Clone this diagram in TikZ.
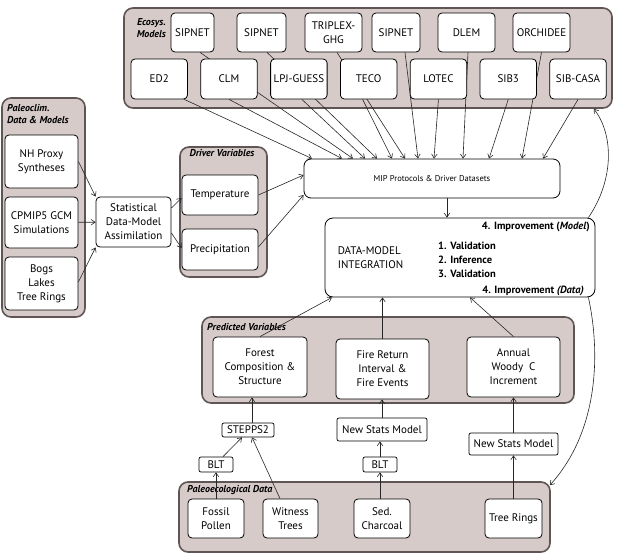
\documentclass[tikz,border=0pt]{standalone}
\usepackage{fontspec}
\setmainfont{PT Sans}
\usetikzlibrary{positioning, arrows.meta, calc}

\definecolor{grpfill}{RGB}{214,203,201}
\definecolor{grpline}{RGB}{95,85,85}

\begin{document}
\begin{tikzpicture}[
    x=1pt, y=-1pt,
    >={Straight Barb[length=4pt,width=5.5pt]},
    every node/.style={font=\fontsize{11}{14}\selectfont},
    model/.style={rectangle, draw=black, fill=white, rounded corners=4pt, align=center, inner sep=1pt, line width=0.8pt, minimum width=56.5pt, minimum height=40pt},
    tag/.style={rectangle, draw=black, fill=white, rounded corners=2pt, align=center, inner sep=1pt, line width=0.7pt},
    group/.style={rectangle, draw=grpline, fill=grpfill, rounded corners=9pt, line width=1.6pt, inner sep=0pt},
    grouplabel/.style={font=\fontsize{10}{12.5}\selectfont\bfseries\itshape, inner sep=0pt, align=left},
    bold/.style={font=\fontsize{10.5}{14}\selectfont\bfseries, inner sep=0pt, align=left},
    link/.style={->, line width=0.6pt, draw=black!85}
]
\useasboundingbox (0,0) rectangle (622,554);

% Groups
\node[group, minimum width=488pt, minimum height=100pt] (ecogrp) at (368,58) {};
\node[group, minimum width=83pt, minimum height=219pt] (climgrp) at (43.5,207.5) {};
\node[group, minimum width=87pt, minimum height=130pt] (drivgrp) at (223.5,212) {};
\node[group, minimum width=372pt, minimum height=86pt] (predgrp) at (388,360) {};
\node[group, minimum width=371pt, minimum height=70pt] (paleogrp) at (364.5,517) {};

% Group labels
\node[grouplabel, align=right, anchor=north east] (ecolbl) at (166,18) {Ecosys.\\Models};
\node[grouplabel, anchor=north west] (climlbl) at (7,104) {Paleoclim.\\Data \& Models};
\node[grouplabel, anchor=north] (drivlbl) at (222,149) {Driver Variables};
\node[grouplabel, anchor=west] (predlbl) at (207,327) {Predicted Variables};
\node[grouplabel, anchor=west] (paleolbl) at (187,490) {Paleoecological Data};

% Ecosystem models, top row
\node[model, minimum width=43pt, minimum height=39pt] (sip1) at (192.5,32.5) {SIPNET};
\node[model, minimum width=49pt, minimum height=39pt] (sip2) at (261.5,32.5) {SIPNET};
\node[model, minimum width=57pt, minimum height=39pt] (triplex) at (333.5,32.5) {TRIPLEX-\\GHG};
\node[model, minimum width=48pt, minimum height=39pt] (sip3) at (396,32.5) {SIPNET};
\node[model, minimum width=57pt, minimum height=39pt] (dlem) at (466.5,32.5) {DLEM};
\node[model, minimum width=57pt, minimum height=39pt] (orchidee) at (541.5,32.5) {ORCHIDEE};

% MIP protocols
\node[model, minimum width=256pt, minimum height=39pt, rounded corners=7pt, font=\fontsize{8.5}{10}\selectfont] (mip) at (432,178.5) {MIP Protocols \& Driver Datasets};

% Top row to MIP (run behind the bottom row)
\draw[link] ([xshift=7.5pt]sip1.south) -- ([xshift=-79pt]mip.north);
\draw[link] ([xshift=5.5pt]sip2.south) -- ([xshift=-55pt]mip.north);
\draw[link] ([xshift=3.5pt]triplex.south) -- ([xshift=-27pt]mip.north);
\draw[link] ([xshift=9pt]sip3.south) -- ([xshift=-14pt]mip.north);
\draw[link] ([xshift=1.5pt]dlem.south) -- ([xshift=31pt]mip.north);
\draw[link] (orchidee.south) -- ([xshift=90pt]mip.north);

% Ecosystem models, bottom row
\node[model] (ed2) at (159.25,79) {ED2};
\node[model, right=12.5pt of ed2] (clm) {CLM};
\node[model, right=12.5pt of clm] (lpj) {LPJ-GUESS};
\node[model, right=12.5pt of lpj] (teco) {TECO};
\node[model, right=12.5pt of teco] (lotec) {LOTEC};
\node[model, right=12.5pt of lotec] (sib3) {SIB3};
\node[model, right=12.5pt of sib3] (sibcasa) {SIB-CASA};

% Bottom row to MIP
\draw[link] ([xshift=25pt]ed2.south) -- ([xshift=-120pt]mip.north);
\draw[link] (clm.south) -- ([xshift=-90pt]mip.north);
\draw[link] ([xshift=3pt]lpj.south) -- ([xshift=-67pt]mip.north);
\draw[link] ([xshift=-6pt]teco.south) -- ([xshift=-40pt]mip.north);
\draw[link] (lotec.south) -- ([xshift=2pt]mip.north);
\draw[link] (sib3.south) -- ([xshift=57pt]mip.north);
\draw[link] (sibcasa.south) -- ([xshift=111pt]mip.north);

% Paleoclimate data and models
\node[model, minimum width=73pt, minimum height=53pt] (nh) at (41.5,161.5) {NH Proxy\\Syntheses};
\node[model, minimum width=73pt, minimum height=51pt] (cpmip) at (41.5,222.5) {CPMIP5 GCM\\Simulations};
\node[model, minimum width=73pt, minimum height=53pt] (bogs) at (41.5,283.5) {Bogs\\Lakes\\Tree Rings};
\node[model, minimum width=75pt, minimum height=50pt] (stat) at (133.5,222) {Statistical\\Data-Model\\Assimilation};

% Driver variables
\node[model, minimum width=76pt, minimum height=40pt] (temp) at (220,195) {Temperature};
\node[model, minimum width=76pt, minimum height=41pt] (precip) at (220,249.5) {Precipitation};

\draw[link] (nh.east) -- (stat.north west);
\draw[link] (cpmip) -- (stat);
\draw[link] ([yshift=1.5pt]bogs.east) -- (stat.south west);
\draw[link] ([yshift=14pt]stat.east) -- ([yshift=-3pt]temp.west);
\draw[link] ([yshift=-11pt]stat.east) -- ([yshift=1.5pt]precip.west);
\draw[link] (temp.east) -- ([yshift=3.5pt]mip.west);
\draw[link] ([yshift=2.5pt]precip.east) -- ([yshift=-16.5pt]mip.west);

% Data-model integration
\node[model, minimum width=270pt, minimum height=79pt, rounded corners=8pt] (dmi) at (460,257.5) {};
\node[right=13pt of dmi.west, align=left, inner sep=0pt] (dmitxt) {DATA-MODEL\\INTEGRATION};
\node[bold, anchor=west] (steps) at (438,260) {1. Validation\\2. Inference\\3. Validation};
\node[bold, anchor=east] (impmodel) at (590,226.5) {4. Improvement (\textit{Model})};
\node[bold, anchor=east] (impdata) at (584,291) {4. Improvement \textit{(Data)}};
\draw[link] ([xshift=15pt]mip.south) -- ([xshift=15pt]mip.south |- dmi.north);

% Predicted variables
\node[model, minimum width=94pt, minimum height=60pt] (forest) at (260,367) {Forest\\Composition \&\\Structure};
\node[model, minimum width=93pt, minimum height=60pt] (fire) at (382.5,369) {Fire Return\\Interval \&\\Fire Events};
\node[model, minimum width=93pt, minimum height=60pt] (annual) at (513.5,367) {Annual\\Woody~~C\\Increment};

\draw[link] (forest.north) -- ([xshift=-128pt]dmi.south);
\draw[link] (fire.north) -- (fire.north |- dmi.south);
\draw[link] (annual.north) -- ([xshift=10pt]dmi.south);

% Statistical models
\node[tag, minimum width=52pt, minimum height=14pt] (stepps) at (248,430) {STEPPS2};
\node[tag, minimum width=34pt, minimum height=15pt] (blt1) at (216,464.5) {BLT};
\node[tag, minimum width=90pt, minimum height=23pt] (nsm1) at (382,429.5) {New Stats Model};
\node[tag, minimum width=34pt, minimum height=15pt] (blt2) at (380,464.5) {BLT};
\node[tag, minimum width=89pt, minimum height=22pt] (nsm2) at (513.5,444) {New Stats Model};

% Paleoecological data
\node[model, minimum width=56pt, minimum height=39pt] (fossil) at (216,518.5) {Fossil\\Pollen};
\node[model, minimum width=55pt, minimum height=39pt] (witness) at (290.5,518.5) {Witness\\Trees};
\node[model, minimum width=56pt, minimum height=39pt] (sed) at (382,518.5) {Sed.\\Charcoal};
\node[model, minimum width=57pt, minimum height=39pt] (tree) at (513.5,518.5) {Tree Rings};

\draw[link] (fossil) -- (blt1);
\draw[link] ([xshift=7pt]blt1.north) -- ([xshift=-6pt]stepps.south);
\draw[link] ([xshift=-10.5pt]witness.north) -- ([xshift=4pt]stepps.south);
\draw[link] ([xshift=4pt]stepps.north) -- ([xshift=-8pt]forest.south);
\draw[link] (blt2.south |- sed.north) -- (blt2.south);
\draw[link] (blt2.north) -- (blt2.north |- nsm1.south);
\draw[link] (nsm1.north) -- (nsm1.north |- fire.south);
\draw[link] (tree) -- (nsm2);
\draw[link] (nsm2) -- (annual);

% Improvement loops
\draw[link] ([xshift=-7pt]dmi.north east) .. controls (614,180) and (614,135) .. ([xshift=-19pt]ecogrp.south east);
\draw[link] ([xshift=-7pt]dmi.south east) .. controls (600,350) and (600,430) .. ([xshift=-1pt,yshift=-4pt]paleogrp.north east);

\end{tikzpicture}
\end{document}
